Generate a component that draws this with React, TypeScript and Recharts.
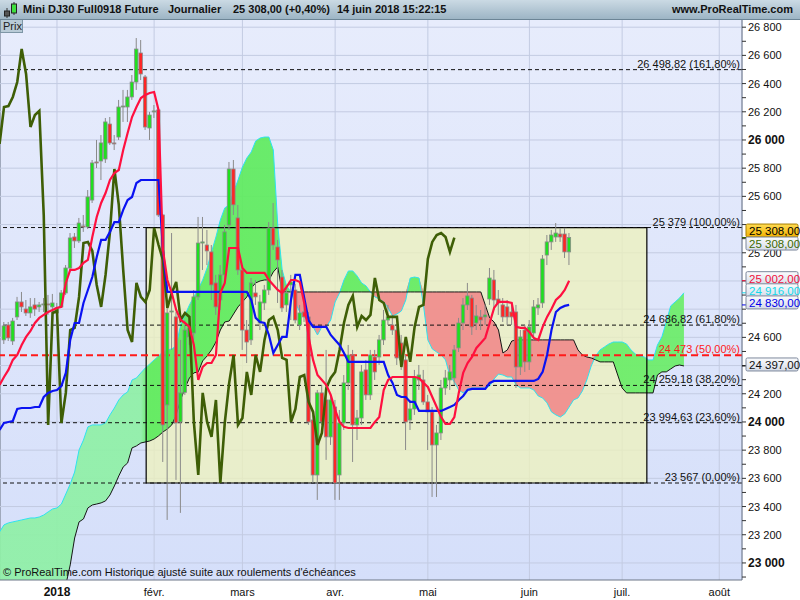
import React from 'react';
import {
  ComposedChart,
  XAxis,
  YAxis,
  CartesianGrid,
  Area,
  Line,
  Bar,
  ReferenceArea,
  ReferenceLine,
} from 'recharts';

const FONT = "'Liberation Sans', Arial, Helvetica, sans-serif";

// Daily candles, index 0 = 14 Dec 2017 ... 128 = 14 Jun 2018
const opens = [
  24582, 24688, 24574, 24745, 24851, 24801, 24773, 24830, 24816, 24830,
  24837, 24816, 24773, 24816, 24915, 25092, 25312, 25284, 25390, 25383,
  25574, 25844, 25851, 25865, 26113, 25979, 26021, 26234, 26234, 26305,
  26411, 26617, 26447, 26085, 26200, 26213, 25468, 24121, 24780, 24745,
  24000, 24210, 24603, 24631, 24887, 25269, 25255, 25206, 24986, 24865,
  25043, 25397, 25794, 25447, 25078, 24652, 24582, 24915, 24702, 24844,
  24936, 25376, 25241, 25028, 24830, 24972, 24936, 24688, 24780, 24745,
  24014, 23624, 24206, 24156, 23894, 24106, 23624, 23993, 24277, 24475,
  23979, 24028, 24369, 24192, 24461, 24461, 24582, 24723, 24688, 24652,
  24560, 24440, 24014, 24092, 24298, 24298, 24142, 24071, 23837, 23922,
  24241, 24298, 24312, 24525, 24702, 24830, 24879, 24702, 24745, 24745,
  24872, 25007, 24872, 24830, 24816, 24780, 24780, 24390, 24652, 24426,
  24631, 24809, 24844, 25184, 25277, 25312, 25333, 25333, 25206,
];
const highs = [
  24709, 24709, 24738, 24887, 24922, 24865, 24879, 24879, 24851, 24879,
  24901, 24908, 24844, 24936, 25113, 25340, 25340, 25447, 25468, 25645,
  25858, 26000, 26035, 26156, 26163, 26035, 26284, 26355, 26355, 26461,
  26723, 26709, 26461, 26199, 26248, 26227, 25475, 24816, 25340, 24780,
  24582, 24723, 24723, 24936, 25454, 25454, 25362, 25255, 25043, 25113,
  25397, 25844, 25858, 25539, 25113, 24723, 25021, 25007, 24901, 24972,
  25418, 25553, 25291, 25078, 24972, 25043, 24980, 24830, 24865, 24780,
  24050, 24227, 24262, 24511, 24192, 24156, 24085, 24333, 24546, 24511,
  24085, 24404, 24440, 24511, 24511, 24617, 24794, 24830, 24759, 24688,
  24617, 24475, 24156, 24369, 24404, 24369, 24192, 24106, 23979, 24298,
  24369, 24404, 24546, 24738, 24879, 24986, 24901, 24830, 24794, 24830,
  25092, 25078, 24936, 24879, 24865, 24830, 24830, 24652, 24688, 24723,
  24865, 24879, 25184, 25326, 25362, 25411, 25376, 25376, 25340,
];
const lows = [
  24553, 24574, 24546, 24723, 24780, 24752, 24738, 24752, 24780, 24780,
  24759, 24738, 24752, 24809, 24901, 25078, 25234, 25269, 25348, 25369,
  25553, 25801, 25716, 25837, 25965, 25929, 26000, 26128, 26128, 26284,
  26355, 26425, 26071, 26000, 26156, 25454, 23716, 23305, 24511, 23589,
  23355, 24192, 24546, 24582, 24865, 25078, 25113, 24865, 24759, 24794,
  24972, 25362, 25468, 25043, 24511, 24418, 24546, 24830, 24652, 24794,
  24901, 25220, 24844, 24780, 24780, 24723, 24700, 24652, 24709, 23979,
  23567, 23447, 23979, 23731, 23837, 23447, 23447, 23943, 24227, 23716,
  23872, 23979, 24156, 24156, 24298, 24404, 24546, 24688, 24617, 24404,
  24369, 23801, 23943, 24050, 24227, 24121, 23801, 23468, 23468, 23872,
  24192, 24227, 24262, 24496, 24652, 24794, 24617, 24652, 24652, 24688,
  24830, 24794, 24759, 24709, 24688, 24688, 24241, 24333, 24355, 24369,
  24582, 24759, 24809, 25113, 25220, 25277, 25277, 25163, 25113,
];
const closes = [
  24681, 24596, 24716, 24851, 24816, 24773, 24816, 24801, 24830, 24837,
  24830, 24844, 24809, 24915, 25092, 25305, 25284, 25411, 25383, 25596,
  25837, 25837, 25979, 26128, 25979, 25972, 26234, 26241, 26305, 26411,
  26645, 26468, 26092, 26177, 26206, 25468, 23979, 24773, 24787, 23993,
  24206, 24652, 24667, 24887, 25269, 25277, 25213, 24972, 24816, 25043,
  25348, 25794, 25540, 25078, 24652, 24567, 24986, 24887, 24851, 24936,
  25376, 25255, 25149, 24809, 24915, 24993, 24723, 24773, 24745, 24000,
  23624, 24206, 24000, 23894, 24156, 23567, 23993, 24277, 24475, 23979,
  24028, 24355, 24192, 24475, 24355, 24582, 24723, 24745, 24652, 24454,
  24440, 24000, 24092, 24319, 24333, 24142, 24071, 23837, 23922, 24241,
  24312, 24355, 24511, 24702, 24830, 24894, 24674, 24752, 24723, 24759,
  25021, 24865, 24844, 24745, 24745, 24745, 24390, 24603, 24426, 24674,
  24816, 24830, 25156, 25277, 25326, 25340, 25312, 25206, 25308,
];

// Ichimoku lines, first value sits at index -1 (left edge)
const tenkan = [
  24262,
  24319, 24369, 24440, 24475, 24546, 24603, 24645, 24702, 24738, 24759,
  24780, 24794, 24809, 24816, 24986, 25078, 25078, 25092, 25128, 25149,
  25312, 25454, 25553, 25624, 25716, 25766, 25787, 25929, 26050, 26163,
  26234, 26298, 26319, 26333, 26340, 26213, 25220, 25007, 24915, 24794,
  24723, 24702, 24674, 24546, 24298, 24390, 24418, 24418, 24475, 24915,
  24986, 25234, 25234, 25234, 25092, 25057, 25057, 25057, 25057, 25057,
  25007, 24972, 24936, 24915, 24957, 25007, 25007, 24993, 24844, 24603,
  24440, 24333, 24298, 24262, 24192, 24085, 24000, 23965, 23957, 23957,
  23957, 23957, 23957, 23957, 24000, 24035, 24227, 24298, 24319, 24319,
  24319, 24319, 24319, 24319, 24312, 24277, 24248, 24177, 24106, 24035,
  23986, 23986, 24035, 24206, 24348, 24418, 24461, 24525, 24560, 24596,
  24702, 24809, 24851, 24851, 24851, 24844, 24674, 24667, 24667, 24638,
  24596, 24582, 24674, 24745, 24801, 24865, 24894, 24936, 25002,
];
const kijun = [
  23943,
  23993, 24000, 24007, 24092, 24099, 24099, 24099, 24106, 24106, 24177,
  24206, 24220, 24227, 24255, 24348, 24582, 24702, 24702, 24844, 24936,
  25028, 25170, 25291, 25291, 25348, 25418, 25418, 25504, 25574, 25596,
  25695, 25716, 25716, 25716, 25716, 25716, 25220, 24922, 24922, 24922,
  24922, 24922, 24922, 24922, 24922, 24922, 24922, 24922, 24922, 24922,
  24922, 24922, 24922, 24922, 24922, 24922, 24865, 24738, 24709, 24702,
  24617, 24489, 24546, 24603, 24603, 24865, 25043, 25043, 24880, 24720,
  24674, 24674, 24674, 24674, 24617, 24582, 24546, 24489, 24426, 24426,
  24426, 24426, 24426, 24426, 24426, 24426, 24426, 24333, 24277, 24192,
  24177, 24177, 24142, 24142, 24078, 24078, 24078, 24078, 24078, 24078,
  24092, 24106, 24121, 24156, 24184, 24227, 24234, 24234, 24234, 24234,
  24277, 24291, 24291, 24291, 24291, 24291, 24291, 24291, 24291, 24291,
  24291, 24305, 24355, 24475, 24652, 24780, 24809, 24823, 24830,
];
const spanA = [
  23220,
  23270, 23284, 23291, 23298, 23305, 23312, 23319, 23319, 23326, 23340,
  23362, 23383, 23390, 23418, 23489, 23560, 23645, 23801, 23872, 23965,
  23979, 23979, 23979, 23993, 24050, 24099, 24156, 24192, 24213, 24298,
  24312, 24348, 24383, 24411, 24440, 24468, 24496, 24511, 24518, 24539,
  24688, 24759, 24830, 24887, 24943, 25007, 25092, 25206, 25312, 25433,
  25518, 25539, 25631, 25716, 25808, 25872, 25915, 25993, 26014, 26021,
  26021, 25929, 25397, 25078, 24965, 24922, 24844, 24780, 24745, 24709,
  24674, 24617, 24674, 24674, 24723, 24851, 24915, 25007, 25071, 25071,
  25035, 24986, 24965, 24922, 24887, 24872, 24851, 24809, 24752, 24766,
  24787, 24865, 25021, 25028, 25021, 24830, 24582, 24518, 24496, 24475,
  24440, 24326, 24284, 24227, 24206, 24234, 24241, 24241, 24241, 24241,
  24255, 24305, 24340, 24333, 24319, 24319, 24262, 24241, 24241, 24241,
  24227, 24184, 24170, 24135, 24071, 24050, 24035, 24057, 24106, 24156,
  24170, 24220, 24298, 24397, 24468, 24511, 24532, 24553, 24567, 24567,
  24567, 24553, 24511, 24482, 24468, 24461, 24440, 24440, 24546, 24603,
  24709, 24823, 24851, 24879, 24916,
];
const spanB = [
  22369,
  22383, 22397, 22419, 22440, 22454, 22482, 22511, 22539, 22567, 22596,
  22638, 22695, 22752, 22809, 22844, 22986, 23177, 23291, 23312, 23390,
  23411, 23418, 23426, 23440, 23482, 23546, 23617, 23681, 23709, 23816,
  23830, 23851, 23858, 23865, 23879, 23901, 23929, 23950, 23979, 24050,
  24156, 24241, 24312, 24348, 24355, 24433, 24468, 24511, 24567, 24652,
  24709, 24716, 24766, 24816, 24851, 24887, 24950, 24986, 25000, 25007,
  25007, 25064, 25099, 24922, 24922, 24922, 24922, 24922, 24922, 24922,
  24922, 24922, 24922, 24922, 24922, 24922, 24922, 24922, 24922, 24922,
  24922, 24922, 24922, 24922, 24922, 24922, 24922, 24922, 24922, 24922,
  24922, 24922, 24922, 24922, 24922, 24922, 24922, 24922, 24922, 24922,
  24922, 24922, 24922, 24922, 24922, 24922, 24922, 24922, 24922, 24830,
  24738, 24709, 24652, 24489, 24511, 24574, 24582, 24582, 24582, 24582,
  24582, 24582, 24582, 24582, 24582, 24582, 24582, 24582, 24582, 24582,
  24511, 24475, 24461, 24454, 24440, 24426, 24426, 24426, 24426, 24333,
  24241, 24206, 24206, 24206, 24206, 24206, 24206, 24206, 24333, 24355,
  24355, 24376, 24397, 24404, 24397,
];

const monthTicks = [12, 34, 54, 75, 96, 119, 140, 162];
const monthLabels = ['2018', 'févr.', 'mars', 'avr.', 'mai', 'juin', 'juil.', 'août'];
const gridTicks = [
  23000, 23200, 23400, 23600, 23800, 24000, 24200, 24400, 24600, 24800,
  25000, 25200, 25400, 25600, 25800, 26000, 26200, 26400, 26600, 26800,
];
// axis ticks every 100, labels every 200
const axisTicks = [
  22900, 23000, 23100, 23200, 23300, 23400, 23500, 23600, 23700, 23800, 23900,
  24000, 24100, 24200, 24300, 24400, 24500, 24600, 24700, 24800, 24900,
  25000, 25100, 25200, 25300, 25400, 25500, 25600, 25700, 25800, 25900,
  26000, 26100, 26200, 26300, 26400, 26500, 26600, 26700, 26800,
];

const fibLevels = [26498.82, 25379, 24686.82, 24473, 24259.18, 23994.63, 23567];
const fibLabels = [
  '26 498,82 (161,80%)',
  '25 379 (100,00%)',
  '24 686,82 (61,80%)',
  '24 473 (50,00%)',
  '24 259,18 (38,20%)',
  '23 994,63 (23,60%)',
  '23 567 (0,00%)',
];
const fibStart = 32.2;
const fibEnd = 145.6;

const LAG = 26;
const FIRST = -1;
const X_DOMAIN: [number, number] = [-0.906, 167.15];
const Y_DOMAIN: [number, number] = [22879, 26851];
const PLOT_H = 560;
const VAL_PER_PX = (Y_DOMAIN[1] - Y_DOMAIN[0]) / PLOT_H;

const rows: any[] = [];
for (let i = FIRST; i < FIRST + spanA.length; i++) {
  const k = i - FIRST;
  const row: any = { i };
  if (i >= 0 && i < closes.length) {
    row.open = opens[i];
    row.high = highs[i];
    row.low = lows[i];
    row.close = closes[i];
    row.hl = [lows[i], highs[i]];
  }
  if (k < tenkan.length) {
    row.tenkan = tenkan[k];
    row.kijun = kijun[k];
  }
  // lagging span = close plotted 26 bars back
  const c = i + LAG;
  if (c >= 0 && c < closes.length) row.chikou = closes[c];
  const a = spanA[k];
  const b = spanB[k];
  row.spanA = a;
  row.spanB = b;
  row.green = [b, Math.max(a, b)];
  row.red = [a, Math.max(a, b)];
  rows.push(row);
}

const grp = (n: number) => {
  const s = Math.round(n).toString();
  return s.length > 3 ? s.slice(0, -3) + ' ' + s.slice(-3) : s;
};
const tagText = (v: number) => grp(v) + ',00';

const last = closes.length - 1;
const tags = [
  { value: closes[last], color: '#000', fill: 'url(#tagGold)', border: '#a87e00', shift: -7 },
  { value: closes[last], color: '#3d6a00', fill: 'url(#tagGray)', border: '#7d889c', shift: 6 },
  { value: tenkan[tenkan.length - 1], color: '#f0103c', fill: 'url(#tagGray)', border: '#7d889c', shift: -2.5 },
  { value: spanA[spanA.length - 1], color: '#12d8ea', fill: 'url(#tagGray)', border: '#7d889c', shift: -2.5 },
  { value: kijun[kijun.length - 1], color: '#0000e8', fill: 'url(#tagGray)', border: '#7d889c', shift: -2.5 },
  { value: spanB[spanB.length - 1], color: '#111', fill: 'url(#tagGray)', border: '#7d889c', shift: -1.5 },
];
// tick labels mostly hidden behind a tag are not drawn
const coveredByTag = (v: number) =>
  tags.some((t) => Math.abs(t.value - t.shift * VAL_PER_PX - v) < 50);

function Candle(props: any) {
  const { x, y, width, height, payload } = props;
  if (!payload || payload.open == null || x == null) return <g />;
  const { open, close, high, low } = payload;
  const span = high - low || 1;
  const py = (v: number) => y + ((high - v) / span) * height;
  const cx = x + width / 2;
  const top = py(Math.max(open, close));
  const bot = py(Math.min(open, close));
  return (
    <g>
      <line x1={cx} x2={cx} y1={py(high)} y2={py(low)} stroke="#8a8a8a" strokeWidth={1} />
      <rect
        x={cx - 1.7}
        y={top}
        width={3.4}
        height={Math.max(bot - top, 1)}
        fill={close >= open ? '#1fe01f' : '#ff2626'}
        stroke="#8a8a8a"
        strokeWidth={0.8}
      />
    </g>
  );
}

function YTick(props: any) {
  const { x, y, payload } = props;
  const v = payload.value;
  if (v % 200 !== 0 || coveredByTag(v)) return <g />;
  const major = v % 1000 === 0;
  return (
    <text x={x} y={y} dy={4} textAnchor="start" fontFamily={FONT} fontSize={major ? 12 : 11}
      fontWeight={major ? 'bold' : 'normal'} fill="#111">
      {grp(v)}
    </text>
  );
}

function XTick(props: any) {
  const { x, y, payload } = props;
  const idx = monthTicks.indexOf(payload.value);
  const bold = idx === 0;
  return (
    <text x={x} y={y} dy={16} textAnchor="middle" fontFamily={FONT} fontSize={bold ? 12 : 11}
      fontWeight={bold ? 'bold' : 'normal'} fill="#111">
      {monthLabels[idx] ?? ''}
    </text>
  );
}

function FibLabel(props: any) {
  const { viewBox, text, color } = props;
  if (!viewBox) return null;
  return (
    <text x={viewBox.x + viewBox.width - 2} y={viewBox.y - 2} textAnchor="end" fontFamily={FONT}
      fontSize={11} fill={color}>
      {text}
    </text>
  );
}

function PriceTag(props: any) {
  const { viewBox, text, color, fill, border, shift } = props;
  if (!viewBox) return null;
  const x0 = viewBox.x + viewBox.width;
  const cy = viewBox.y + shift;
  return (
    <g>
      <line x1={x0} x2={x0 + 4} y1={viewBox.y} y2={viewBox.y} stroke={color} strokeWidth={1} />
      <rect x={x0 + 4} y={cy - 6.5} width={52} height={13} rx={1.5} fill={fill} stroke={border} />
      <text x={x0 + 7} y={cy + 4.5} fontFamily={FONT} fontSize={11.5} fill={color}>{text}</text>
    </g>
  );
}

function Header() {
  const t = { position: 'absolute' as const, top: 0, lineHeight: '19px' };
  return (
    <div style={{
      position: 'absolute', left: 0, top: 0, width: 800, height: 20, boxSizing: 'border-box',
      background: 'linear-gradient(#cbdae4, #9db5c5)', borderBottom: '1px solid #6c8596',
      fontFamily: FONT, fontWeight: 'bold', fontSize: 11, color: '#111',
    }}>
      <svg style={{ position: 'absolute', left: 2, top: 2 }} width={16} height={16}>
        <line x1={5} x2={5} y1={6} y2={16} stroke="#333" />
        <rect x={2.5} y={9} width={5} height={5} fill="#555" stroke="#222" />
        <line x1={12} x2={12} y1={0} y2={13} stroke="#333" />
        <rect x={9.5} y={2} width={5} height={9} fill="#3ee03e" stroke="#222" />
      </svg>
      <span style={{ ...t, left: 23 }}>Mini DJ30 Full0918 Future</span>
      <span style={{ ...t, left: 168 }}>Journalier</span>
      <span style={{ ...t, left: 233 }}>25 308,00 (+0,40%)</span>
      <span style={{ ...t, left: 337 }}>14 juin 2018 15:22:15</span>
      <span style={{ ...t, right: 7 }}>www.ProRealTime.com</span>
    </div>
  );
}

const CHART_MARGIN = { top: 0, right: 0, bottom: 0, left: 0 };

export default function App() {
  return (
    <div style={{ position: 'relative', width: 800, height: 600, overflow: 'hidden', background: '#fff', fontFamily: FONT }}>
      <style>{'body{margin:0}'}</style>
      <div style={{
        position: 'absolute', left: 0, top: 20, width: 742, height: 560,
        background: 'linear-gradient(#e7ecfc, #d5dffa)', borderLeft: '1px solid #7d8797', boxSizing: 'border-box',
      }} />
      <div style={{ position: 'absolute', left: 0, top: 20 }}>
        <ComposedChart width={800} height={580} data={rows} margin={CHART_MARGIN}>
          <defs>
            <linearGradient id="cloudGreen" gradientUnits="userSpaceOnUse" x1="0" y1="0" x2="742" y2="0">
              <stop offset="0%" stopColor="#8ff0a6" />
              <stop offset="19%" stopColor="#8ff0a6" />
              <stop offset="20%" stopColor="#5ceb5c" />
              <stop offset="100%" stopColor="#6ded6a" />
            </linearGradient>
          </defs>
          <CartesianGrid stroke="#c3cbe2" strokeWidth={1} horizontalValues={gridTicks} />
          <XAxis dataKey="i" type="number" domain={X_DOMAIN} allowDataOverflow ticks={monthTicks} interval={0}
            tick={<XTick />} tickLine={false} tickSize={0} tickMargin={0} axisLine={{ stroke: '#6d7687' }} height={20} />
          <YAxis orientation="right" type="number" domain={Y_DOMAIN} allowDataOverflow ticks={axisTicks} interval={0}
            tick={<YTick />} tickLine={{ stroke: '#333' }} tickSize={4} tickMargin={2} axisLine={{ stroke: '#6d7687' }} width={58} />

          <ReferenceArea x1={fibStart} x2={fibEnd} y1={fibLevels[6]} y2={fibLevels[1]} fill="#edf1bb" fillOpacity={0.75}
            stroke="none" zIndex={50} />

          <Area type="linear" dataKey="green" stroke="none" fill="url(#cloudGreen)" fillOpacity={0.92}
            isAnimationActive={false} zIndex={100} />
          <Area type="linear" dataKey="red" stroke="none" fill="#f08c8c" fillOpacity={0.92}
            isAnimationActive={false} zIndex={100} />
          <Line type="linear" dataKey="spanA" stroke="#2ee2f0" strokeWidth={1} dot={false} activeDot={false}
            isAnimationActive={false} zIndex={150} />
          <Line type="linear" dataKey="spanB" stroke="#161616" strokeWidth={1} dot={false} activeDot={false}
            isAnimationActive={false} zIndex={150} />

          <ReferenceArea x1={fibStart} x2={fibEnd} y1={fibLevels[6]} y2={fibLevels[1]} fill="none"
            stroke="#000" strokeWidth={1.2} zIndex={160} />
          {fibLevels.map((lv, n) => (
            <ReferenceLine key={`fib-${n}`} y={lv} stroke={n === 3 ? '#ff1a1a' : '#111'}
              strokeWidth={n === 3 ? 2.2 : 1} strokeDasharray={n === 3 ? '7 4' : '4 3'} zIndex={170}
              label={<FibLabel text={fibLabels[n]} color={n === 3 ? '#ff1a1a' : '#111'} />} />
          ))}

          <Bar dataKey="hl" barSize={4} shape={(p: any) => <Candle {...p} />} isAnimationActive={false} zIndex={300} />

          <Line type="linear" dataKey="chikou" stroke="#3e5e06" strokeWidth={2.6} dot={false} activeDot={false}
            isAnimationActive={false} zIndex={400} />
          <Line type="linear" dataKey="kijun" stroke="#0a12f2" strokeWidth={2.2} dot={false} activeDot={false}
            isAnimationActive={false} zIndex={400} />
          <Line type="linear" dataKey="tenkan" stroke="#ff1040" strokeWidth={2.2} dot={false} activeDot={false}
            isAnimationActive={false} zIndex={400} />
        </ComposedChart>
      </div>
      {/* last-value tags, drawn over the price axis with the same scales */}
      <div style={{ position: 'absolute', left: 0, top: 20, pointerEvents: 'none' }}>
        <ComposedChart width={800} height={580} data={rows} margin={CHART_MARGIN}>
          <defs>
            <linearGradient id="tagGray" x1="0" y1="0" x2="0" y2="1">
              <stop offset="0%" stopColor="#fbfcfe" />
              <stop offset="100%" stopColor="#d6dce8" />
            </linearGradient>
            <linearGradient id="tagGold" x1="0" y1="0" x2="0" y2="1">
              <stop offset="0%" stopColor="#ffdc55" />
              <stop offset="100%" stopColor="#f2b200" />
            </linearGradient>
          </defs>
          <XAxis dataKey="i" type="number" domain={X_DOMAIN} allowDataOverflow tick={false} tickLine={false}
            axisLine={false} height={20} />
          <YAxis orientation="right" type="number" domain={Y_DOMAIN} allowDataOverflow tick={false} tickLine={false}
            axisLine={false} width={58} />
          {tags.map((t, n) => (
            <ReferenceLine key={`tag-${n}`} y={t.value} stroke="none"
              label={<PriceTag text={tagText(t.value)} color={t.color} fill={t.fill} border={t.border} shift={t.shift} />} />
          ))}
        </ComposedChart>
      </div>
      <Header />
      <div style={{
        position: 'absolute', left: 0, top: 20, width: 23, height: 13, boxSizing: 'border-box',
        background: '#b9cbd7', border: '1px solid #7e96a6', borderTop: 'none',
        fontSize: 11, lineHeight: '12px', paddingLeft: 2, color: '#222',
      }}>Prix</div>
      <div style={{
        position: 'absolute', left: 3, top: 566, fontSize: 11, color: '#111',
        fontFamily: "'Liberation Sans Narrow', 'Liberation Sans', Arial, sans-serif", whiteSpace: 'nowrap',
      }}>© ProRealTime.com  Historique ajusté suite aux roulements d'échéances</div>
    </div>
  );
}
